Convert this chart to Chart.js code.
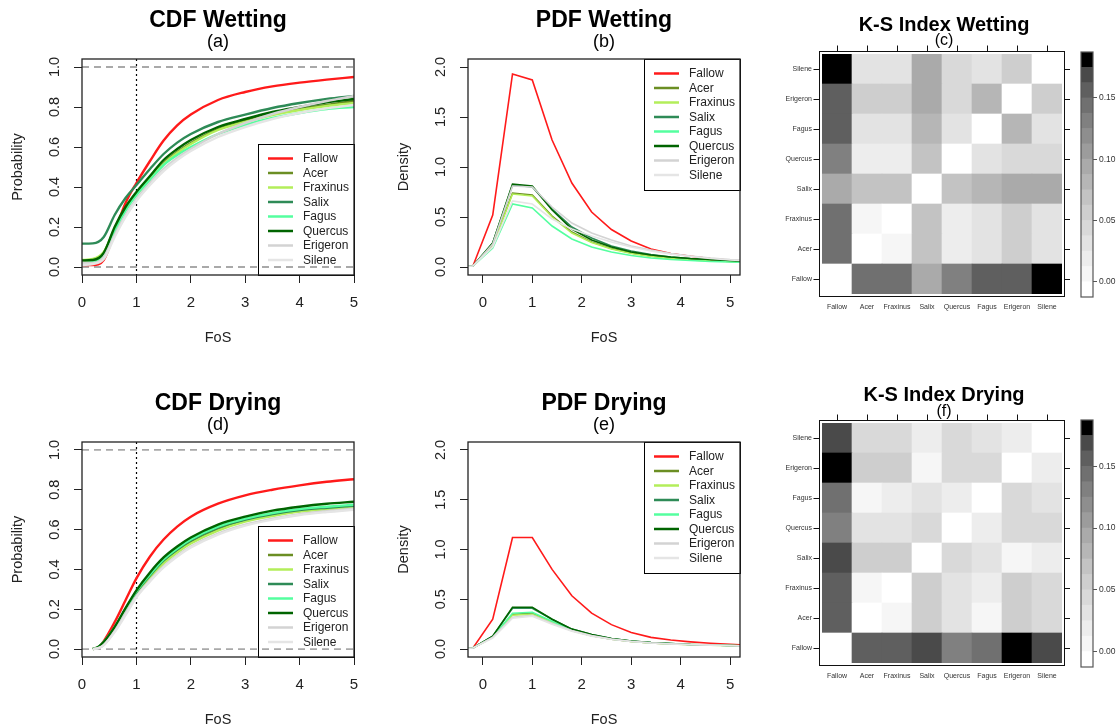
<!DOCTYPE html>
<html>
<head>
<meta charset="utf-8">
<script src="https://cdn.jsdelivr.net/npm/chart.js@4.4.1/dist/chart.umd.min.js"></script>
<style>
  body { margin: 0; background: #fff; width: 1116px; height: 727px; position: relative; overflow: hidden; }
  canvas { position: absolute; }
</style>
</head>
<body>
<canvas id="cdfWet" width="380" height="360" style="left:0;top:0"></canvas>
<canvas id="pdfWet" width="380" height="360" style="left:380px;top:0"></canvas>
<canvas id="ksWet" width="310" height="360" style="left:760px;top:0"></canvas>
<canvas id="keyWet" width="46" height="360" style="left:1070px;top:0"></canvas>
<canvas id="cdfDry" width="380" height="367" style="left:0;top:360px"></canvas>
<canvas id="pdfDry" width="380" height="367" style="left:380px;top:360px"></canvas>
<canvas id="ksDry" width="310" height="367" style="left:760px;top:360px"></canvas>
<canvas id="keyDry" width="46" height="367" style="left:1070px;top:360px"></canvas>
<script>
const FONT = '"Liberation Sans", Arial, Helvetica, sans-serif';
Chart.defaults.font.family = FONT;

// ---- data ----
const species = ["Fallow", "Acer", "Fraxinus", "Salix", "Fagus", "Quercus", "Erigeron", "Silene"];
const speciesColors = ["#ff1a1a", "#6b8e23", "#b3ee5a", "#2e8b57", "#54ff9f", "#006400", "#d3d3d3", "#e5e5e5"];

const cdfTicksX = [0, 1, 2, 3, 4, 5];
const cdfTicksY = [0, 0.2, 0.4, 0.6, 0.8, 1];
const pdfTicksX = [0, 1, 2, 3, 4, 5];
const pdfTicksY = [0, 0.5, 1, 1.5, 2];
const refLevels = [0, 1];
const fosThreshold = [1];

const cdfWetX = [0, 0.2, 0.4, 0.6, 0.8, 1, 1.25, 1.5, 1.75, 2, 2.5, 3, 3.5, 4, 4.5, 5];
const cdfWet = [
  [0.01, 0.01, 0.035, 0.175, 0.32, 0.42, 0.53, 0.632, 0.708, 0.762, 0.835, 0.875, 0.903, 0.922, 0.937, 0.95],
  [0.03, 0.035, 0.07, 0.19, 0.29, 0.365, 0.445, 0.52, 0.575, 0.62, 0.69, 0.73, 0.765, 0.79, 0.81, 0.83],
  [0.035, 0.04, 0.075, 0.19, 0.29, 0.36, 0.44, 0.515, 0.57, 0.615, 0.685, 0.725, 0.76, 0.785, 0.805, 0.82],
  [0.117, 0.118, 0.15, 0.26, 0.345, 0.41, 0.49, 0.565, 0.622, 0.665, 0.725, 0.762, 0.795, 0.82, 0.84, 0.855],
  [0.02, 0.025, 0.06, 0.18, 0.28, 0.36, 0.435, 0.51, 0.56, 0.60, 0.665, 0.71, 0.745, 0.77, 0.79, 0.80],
  [0.033, 0.035, 0.07, 0.20, 0.30, 0.375, 0.455, 0.535, 0.59, 0.635, 0.70, 0.74, 0.775, 0.80, 0.823, 0.84],
  [0.02, 0.02, 0.05, 0.16, 0.26, 0.34, 0.42, 0.49, 0.545, 0.59, 0.665, 0.72, 0.765, 0.80, 0.83, 0.855],
  [0.01, 0.015, 0.04, 0.15, 0.25, 0.33, 0.41, 0.48, 0.535, 0.58, 0.65, 0.70, 0.74, 0.77, 0.793, 0.81]
];

const cdfDryX = [0.2, 0.3, 0.4, 0.6, 0.8, 1, 1.25, 1.5, 1.75, 2, 2.5, 3, 3.5, 4, 4.5, 5];
const cdfDry = [
  [0, 0.01, 0.04, 0.135, 0.245, 0.355, 0.465, 0.55, 0.615, 0.665, 0.73, 0.772, 0.80, 0.822, 0.84, 0.853],
  [0, 0.01, 0.03, 0.10, 0.19, 0.28, 0.365, 0.435, 0.49, 0.535, 0.60, 0.645, 0.673, 0.693, 0.705, 0.715],
  [0, 0.01, 0.03, 0.10, 0.19, 0.275, 0.36, 0.43, 0.485, 0.53, 0.595, 0.64, 0.668, 0.69, 0.703, 0.715],
  [0, 0.01, 0.035, 0.105, 0.20, 0.285, 0.37, 0.445, 0.50, 0.545, 0.61, 0.65, 0.678, 0.698, 0.71, 0.72],
  [0, 0.01, 0.035, 0.11, 0.20, 0.29, 0.375, 0.45, 0.505, 0.55, 0.615, 0.655, 0.683, 0.703, 0.715, 0.725],
  [0, 0.01, 0.035, 0.11, 0.205, 0.295, 0.385, 0.46, 0.515, 0.56, 0.625, 0.665, 0.695, 0.715, 0.73, 0.74],
  [0, 0.005, 0.02, 0.09, 0.18, 0.265, 0.345, 0.415, 0.47, 0.515, 0.58, 0.625, 0.655, 0.678, 0.693, 0.705],
  [0, 0.005, 0.02, 0.085, 0.17, 0.26, 0.34, 0.41, 0.465, 0.51, 0.575, 0.62, 0.65, 0.673, 0.688, 0.70]
];

const pdfX = [-0.6, -0.2, 0.2, 0.6, 1, 1.4, 1.8, 2.2, 2.6, 3, 3.4, 3.8, 4.2, 4.6, 5, 5.4];
const pdfWet = [
  [0, 0.01, 0.52, 1.93, 1.87, 1.27, 0.84, 0.55, 0.375, 0.26, 0.18, 0.135, 0.107, 0.084, 0.067, 0.055],
  [0, 0.01, 0.22, 0.74, 0.72, 0.51, 0.35, 0.25, 0.185, 0.14, 0.11, 0.09, 0.075, 0.065, 0.055, 0.05],
  [0, 0.01, 0.21, 0.73, 0.71, 0.50, 0.34, 0.245, 0.18, 0.135, 0.105, 0.085, 0.07, 0.06, 0.055, 0.05],
  [0, 0.01, 0.24, 0.82, 0.80, 0.58, 0.40, 0.29, 0.21, 0.16, 0.125, 0.10, 0.085, 0.075, 0.065, 0.055],
  [0, 0.01, 0.19, 0.63, 0.59, 0.41, 0.28, 0.20, 0.15, 0.115, 0.09, 0.075, 0.065, 0.055, 0.05, 0.045],
  [0, 0.01, 0.24, 0.83, 0.81, 0.57, 0.38, 0.27, 0.20, 0.15, 0.12, 0.10, 0.085, 0.075, 0.065, 0.055],
  [0, 0.01, 0.23, 0.81, 0.80, 0.60, 0.44, 0.34, 0.27, 0.21, 0.17, 0.135, 0.11, 0.09, 0.075, 0.065],
  [0, 0.01, 0.20, 0.66, 0.63, 0.48, 0.38, 0.31, 0.25, 0.20, 0.16, 0.13, 0.105, 0.085, 0.07, 0.06]
];
const pdfDry = [
  [0, 0.01, 0.30, 1.12, 1.12, 0.80, 0.535, 0.36, 0.245, 0.167, 0.117, 0.09, 0.072, 0.058, 0.047, 0.04],
  [0, 0.01, 0.12, 0.35, 0.36, 0.27, 0.19, 0.135, 0.10, 0.077, 0.062, 0.052, 0.045, 0.04, 0.035, 0.03],
  [0, 0.01, 0.12, 0.34, 0.35, 0.27, 0.185, 0.135, 0.10, 0.076, 0.061, 0.051, 0.044, 0.039, 0.034, 0.03],
  [0, 0.01, 0.13, 0.41, 0.41, 0.30, 0.20, 0.145, 0.105, 0.08, 0.065, 0.055, 0.045, 0.04, 0.035, 0.03],
  [0, 0.01, 0.12, 0.36, 0.37, 0.28, 0.19, 0.14, 0.10, 0.078, 0.063, 0.053, 0.045, 0.04, 0.035, 0.03],
  [0, 0.01, 0.13, 0.42, 0.42, 0.30, 0.20, 0.145, 0.105, 0.08, 0.065, 0.055, 0.045, 0.04, 0.035, 0.03],
  [0, 0.01, 0.12, 0.32, 0.34, 0.26, 0.185, 0.135, 0.10, 0.077, 0.062, 0.052, 0.045, 0.04, 0.035, 0.03],
  [0, 0.01, 0.11, 0.31, 0.33, 0.25, 0.18, 0.13, 0.098, 0.075, 0.06, 0.05, 0.044, 0.039, 0.034, 0.03]
];

// K-S index matrices, rows bottom (Fallow) to top (Silene)
const ksSpecies = ["Fallow", "Acer", "Fraxinus", "Salix", "Quercus", "Fagus", "Erigeron", "Silene"];
const ksWet = [
  [0, 0.145, 0.145, 0.095, 0.13, 0.155, 0.155, 0.18],
  [0.145, 0, 0.006, 0.07, 0.02, 0.03, 0.056, 0.035],
  [0.145, 0.006, 0, 0.07, 0.02, 0.03, 0.056, 0.035],
  [0.095, 0.07, 0.07, 0, 0.07, 0.08, 0.095, 0.095],
  [0.13, 0.02, 0.02, 0.07, 0, 0.035, 0.045, 0.045],
  [0.155, 0.03, 0.03, 0.08, 0.035, 0, 0.08, 0.035],
  [0.155, 0.056, 0.056, 0.095, 0.045, 0.08, 0, 0.056],
  [0.18, 0.035, 0.035, 0.095, 0.045, 0.035, 0.056, 0]
];
const ksDry = [
  [0, 0.155, 0.155, 0.17, 0.13, 0.145, 0.18, 0.17],
  [0.155, 0, 0.006, 0.055, 0.03, 0.006, 0.055, 0.045],
  [0.155, 0.006, 0, 0.055, 0.03, 0.02, 0.055, 0.045],
  [0.17, 0.055, 0.055, 0, 0.045, 0.035, 0.006, 0.02],
  [0.13, 0.03, 0.03, 0.045, 0, 0.02, 0.045, 0.04],
  [0.145, 0.006, 0.02, 0.035, 0.02, 0, 0.04, 0.03],
  [0.18, 0.055, 0.055, 0.006, 0.045, 0.04, 0, 0.02],
  [0.17, 0.045, 0.045, 0.02, 0.04, 0.03, 0.02, 0]
];
const ksLevels = [-0.0125, 0, 0.0125, 0.025, 0.0375, 0.05, 0.0625, 0.075, 0.0875, 0.1, 0.1125, 0.125, 0.1375, 0.15, 0.1625, 0.175, 0.1875];
const ksGreys = ["#ffffff", "#f6f6f6", "#ededed", "#e3e3e3", "#d9d9d9", "#cecece", "#c3c3c3", "#b6b6b6",
                 "#aaaaaa", "#9c9c9c", "#8e8e8e", "#808080", "#707070", "#5f5f5f", "#4a4a4a", "#000000"];
const keyTicks = [0, 0.05, 0.1, 0.15];

function ksGrey(v) {
  for (let i = 0; i < ksGreys.length; i++) {
    if (v <= ksLevels[i + 1]) return ksGreys[i];
  }
  return ksGreys[ksGreys.length - 1];
}

// ---- R style base plot decorations ----
const rStyle = {
  id: "rStyle",
  beforeDatasetsDraw(chart, args, o) {
    const { ctx, chartArea: a, scales: { x, y } } = chart;
    ctx.save();
    ctx.beginPath();
    ctx.rect(a.left, a.top, a.width, a.height);
    ctx.clip();
    (o.refY || []).forEach(v => {
      const p = y.getPixelForValue(v);
      ctx.setLineDash([7, 5]);
      ctx.strokeStyle = "#a9a9a9";
      ctx.lineWidth = 1.8;
      ctx.beginPath(); ctx.moveTo(a.left, p); ctx.lineTo(a.right, p); ctx.stroke();
    });
    (o.refX || []).forEach(v => {
      const p = Math.round(x.getPixelForValue(v)) + 0.5;
      ctx.setLineDash([2, 3]);
      ctx.strokeStyle = "#000";
      ctx.lineWidth = 1.2;
      ctx.beginPath(); ctx.moveTo(p, a.top); ctx.lineTo(p, a.bottom); ctx.stroke();
    });
    ctx.restore();
  },
  afterDraw(chart, args, o) {
    const { ctx, chartArea: a, scales: { y } } = chart;
    const cx = (a.left + a.right) / 2;
    ctx.save();
    // legend
    const lw = 96, lh = 131;
    const lx = a.right - lw, ly = o.legendAt === "bottom" ? a.bottom - lh : a.top;
    ctx.strokeStyle = "#000";
    ctx.lineWidth = 1;
    ctx.strokeRect(Math.round(lx) + 0.5, Math.round(ly) + 0.5, lw, lh);
    ctx.font = "12px " + FONT;
    ctx.textAlign = "left";
    ctx.textBaseline = "middle";
    chart.data.datasets.forEach((d, i) => {
      const yy = ly + 14.5 + i * 14.5;
      ctx.strokeStyle = d.borderColor;
      ctx.lineWidth = 2.5;
      ctx.beginPath(); ctx.moveTo(lx + 10, yy); ctx.lineTo(lx + 35, yy); ctx.stroke();
      ctx.fillStyle = "#222";
      ctx.fillText(d.label, lx + 45, yy + 0.5);
    });
    // plot box
    ctx.strokeStyle = "#222";
    ctx.lineWidth = 1.3;
    ctx.strokeRect(a.left, a.top, a.width, a.height);
    // rotated y tick labels
    ctx.fillStyle = "#222";
    ctx.textAlign = "center";
    ctx.font = "14.5px " + FONT;
    y.ticks.forEach(t => {
      ctx.save();
      ctx.translate(a.left - 27, y.getPixelForValue(t.value));
      ctx.rotate(-Math.PI / 2);
      ctx.fillText(t.value.toFixed(1), 0, 0);
      ctx.restore();
    });
    // axis titles
    ctx.fillText(o.xTitle, cx, a.bottom + 63);
    ctx.save();
    ctx.translate(a.left - 64, (a.top + a.bottom) / 2);
    ctx.rotate(-Math.PI / 2);
    ctx.fillText(o.yTitle, 0, 0);
    ctx.restore();
    // main title
    ctx.fillStyle = "#000";
    ctx.font = "bold 23px " + FONT;
    ctx.fillText(o.title, cx, a.top - 38);
    ctx.font = "18px " + FONT;
    ctx.fillText(o.sub, cx, a.top - 17);
    ctx.restore();
  }
};

function curvePanel(id, p) {
  return new Chart(document.getElementById(id), {
    type: "line",
    data: {
      datasets: species.map((name, i) => ({
        label: name,
        data: p.x.map((x, k) => ({ x: x, y: p.series[i][k] })),
        borderColor: speciesColors[i],
        borderWidth: p.lineWidth,
        pointRadius: 0,
        cubicInterpolationMode: p.smooth ? "monotone" : "default",
        tension: 0,
        order: species.length - i
      }))
    },
    options: {
      responsive: false,
      animation: false,
      events: [],
      layout: { padding: { top: p.top, right: p.right, left: 0, bottom: 0 } },
      plugins: {
        legend: { display: false },
        tooltip: { enabled: false },
        rStyle: p.deco
      },
      scales: {
        x: {
          type: "linear", min: p.xMin, max: p.xMax,
          afterBuildTicks: s => { s.ticks = p.xTicks.map(v => ({ value: v })); },
          afterFit: s => { s.height = p.xHeight; },
          border: { display: false },
          grid: { drawOnChartArea: false, color: "#222", tickLength: 8, lineWidth: 1 },
          ticks: { color: "#222", font: { size: 15 }, padding: 11, autoSkip: false, maxRotation: 0, callback: v => String(v) }
        },
        y: {
          type: "linear", min: p.yMin, max: p.yMax,
          afterBuildTicks: s => { s.ticks = p.yTicks.map(v => ({ value: v })); },
          afterFit: s => { s.width = p.yWidth; },
          border: { display: false },
          grid: { drawOnChartArea: false, color: "#222", tickLength: 8, lineWidth: 1 },
          ticks: { display: false }
        }
      }
    },
    plugins: [rStyle]
  });
}

// ---- K-S heatmap frame ----
const ksFrame = {
  id: "ksFrame",
  afterDraw(chart, args, o) {
    const { ctx, chartArea: a, scales: { x, y } } = chart;
    const L = a.left - 2.5, R = a.right + 2.5, T = a.top - 2.5, B = a.bottom + 2.5;
    ctx.save();
    ctx.strokeStyle = "#111";
    ctx.lineWidth = 1;
    ctx.strokeRect(L, T, R - L, B - T);
    ctx.beginPath();
    y.ticks.forEach(t => {
      const py = Math.round(y.getPixelForValue(t.value)) + 0.5;
      ctx.moveTo(L - 6, py); ctx.lineTo(L, py);
      ctx.moveTo(R, py); ctx.lineTo(R + 6, py);
    });
    ksSpecies.forEach((s, i) => {
      const px = Math.round(x.getPixelForValue(i)) + 0.5;
      ctx.moveTo(px, T - 6); ctx.lineTo(px, T);
    });
    ctx.stroke();
    ctx.fillStyle = "#000";
    ctx.textAlign = "center";
    ctx.textBaseline = "middle";
    ctx.font = "bold 20px " + FONT;
    ctx.fillText(o.title, o.cx, o.titleY);
    ctx.font = "16px " + FONT;
    ctx.fillText(o.sub, o.cx, o.subY);
    ctx.restore();
  }
};

function ksPanel(id, matrix, p) {
  return new Chart(document.getElementById(id), {
    type: "bar",
    data: {
      labels: ksSpecies,
      datasets: ksSpecies.map((row, i) => ({
        label: row,
        data: ksSpecies.map(() => 1),
        backgroundColor: matrix[i].map(ksGrey),
        borderWidth: 0,
        barPercentage: 1,
        categoryPercentage: 1
      }))
    },
    options: {
      responsive: false,
      animation: false,
      events: [],
      layout: { padding: { top: p.top, right: 8, left: 0, bottom: 0 } },
      plugins: { legend: { display: false }, tooltip: { enabled: false }, ksFrame: p.deco },
      scales: {
        x: {
          stacked: true,
          afterFit: s => { s.height = p.xHeight; },
          border: { display: false },
          grid: { display: false, drawTicks: false },
          ticks: { color: "#333", font: { size: 7 }, padding: 9, autoSkip: false, maxRotation: 0 }
        },
        y: {
          stacked: true, min: 0, max: ksSpecies.length,
          afterBuildTicks: s => { s.ticks = ksSpecies.map((n, i) => ({ value: i + 0.5 })); },
          afterFit: s => { s.width = 62; },
          border: { display: false },
          grid: { display: false, drawTicks: false },
          ticks: { color: "#333", font: { size: 7 }, padding: 10, callback: (v, i) => ksSpecies[i] }
        }
      }
    },
    plugins: [ksFrame]
  });
}

const keyFrame = {
  id: "keyFrame",
  afterDraw(chart) {
    const { ctx, chartArea: a } = chart;
    ctx.save();
    ctx.strokeStyle = "#555";
    ctx.lineWidth = 1.2;
    ctx.strokeRect(a.left, a.top, a.width, a.height);
    ctx.restore();
  }
};

function keyPanel(id, top, bottom) {
  return new Chart(document.getElementById(id), {
    type: "bar",
    data: {
      labels: [""],
      datasets: ksGreys.map((g, i) => ({
        data: [[ksLevels[i], ksLevels[i + 1]]],
        backgroundColor: g,
        borderWidth: 0,
        grouped: false,
        barPercentage: 1,
        categoryPercentage: 1
      }))
    },
    options: {
      responsive: false,
      animation: false,
      events: [],
      layout: { padding: { top: top, bottom: bottom, left: 11, right: 0 } },
      plugins: { legend: { display: false }, tooltip: { enabled: false } },
      scales: {
        x: { display: false },
        y: {
          position: "right",
          min: ksLevels[0], max: ksLevels[ksLevels.length - 1],
          afterBuildTicks: s => { s.ticks = keyTicks.map(v => ({ value: v })); },
          afterFit: s => { s.width = 23; },
          border: { display: false },
          grid: { drawOnChartArea: false, color: "#555", tickLength: 4 },
          ticks: { color: "#333", font: { size: 8.5 }, padding: 2, callback: v => v.toFixed(2) }
        }
      }
    },
    plugins: [keyFrame]
  });
}

// ---- panels ----
curvePanel("cdfWet", {
  x: cdfWetX, series: cdfWet, lineWidth: 2.4, smooth: true,
  xMin: 0, xMax: 5, yMin: -0.04, yMax: 1.04, xTicks: cdfTicksX, yTicks: cdfTicksY,
  top: 59, right: 26, xHeight: 85, yWidth: 82,
  deco: { title: "CDF Wetting", sub: "(a)", xTitle: "FoS", yTitle: "Probability", legendAt: "bottom", refY: refLevels, refX: fosThreshold }
});
curvePanel("pdfWet", {
  x: pdfX, series: pdfWet, lineWidth: 1.6, smooth: false,
  xMin: -0.3, xMax: 5.2, yMin: -0.08, yMax: 2.08, xTicks: pdfTicksX, yTicks: pdfTicksY,
  top: 59, right: 20, xHeight: 85, yWidth: 88,
  deco: { title: "PDF Wetting", sub: "(b)", xTitle: "FoS", yTitle: "Density", legendAt: "top" }
});
curvePanel("cdfDry", {
  x: cdfDryX, series: cdfDry, lineWidth: 2.4, smooth: true,
  xMin: 0, xMax: 5, yMin: -0.04, yMax: 1.04, xTicks: cdfTicksX, yTicks: cdfTicksY,
  top: 82, right: 26, xHeight: 70, yWidth: 82,
  deco: { title: "CDF Drying", sub: "(d)", xTitle: "FoS", yTitle: "Probability", legendAt: "bottom", refY: refLevels, refX: fosThreshold }
});
curvePanel("pdfDry", {
  x: pdfX, series: pdfDry, lineWidth: 1.6, smooth: false,
  xMin: -0.3, xMax: 5.2, yMin: -0.08, yMax: 2.08, xTicks: pdfTicksX, yTicks: pdfTicksY,
  top: 82, right: 20, xHeight: 70, yWidth: 88,
  deco: { title: "PDF Drying", sub: "(e)", xTitle: "FoS", yTitle: "Density", legendAt: "top" }
});

ksPanel("ksWet", ksWet, { top: 54, xHeight: 66, deco: { title: "K-S Index Wetting", sub: "(c)", cx: 184, titleY: 25, subY: 41 } });
ksPanel("ksDry", ksDry, { top: 63, xHeight: 64, deco: { title: "K-S Index Drying", sub: "(f)", cx: 184, titleY: 35, subY: 52 } });
keyPanel("keyWet", 52, 63);
keyPanel("keyDry", 60, 60);
</script>
</body>
</html>
